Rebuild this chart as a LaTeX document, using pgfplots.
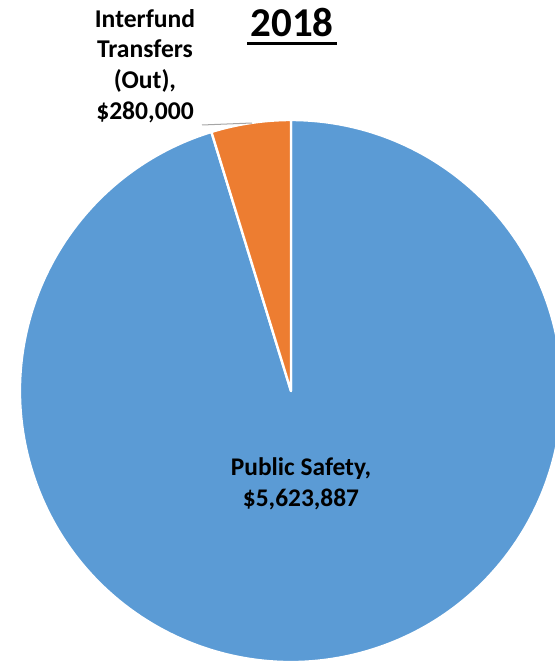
\documentclass[border=0pt]{standalone}
\usepackage{pgfplots}
\usepackage{pgfplotstable}
\pgfplotsset{compat=1.18}
\usepackage{fontspec}
\setmainfont{Carlito}
\definecolor{pblue}{HTML}{5B9BD5}
\definecolor{porange}{HTML}{ED7D31}
\pgfplotstableread{
name value
transfers 280000
safety 5623887
}\piedata
\begin{document}
\begin{tikzpicture}
\pgfplotstablegetelem{0}{value}\of\piedata \edef\va{\pgfplotsretval}
\pgfplotstablegetelem{1}{value}\of\piedata \edef\vb{\pgfplotsretval}
\edef\aa{\fpeval{90+360*\va/(\va+\vb)}}
\begin{axis}[x=0.5pt,y=0.5pt,xmin=0,xmax=555,ymin=0,ymax=666,
  hide axis,scale only axis,clip=true]
\fill[pblue,draw=white,line width=1.2pt,line join=round] (axis cs:291,275) -- ++(\aa:135.5pt) arc[start angle=\aa,end angle=450,radius=135.5pt] -- cycle;
\fill[porange,draw=white,line width=1.2pt,line join=round] (axis cs:291,275) -- ++(90:135.5pt) arc[start angle=90,end angle=\aa,radius=135.5pt] -- cycle;
\draw[black!35,line width=0.5pt] (axis cs:202,541) -- (axis cs:252,543);
\node[font=\bfseries\fontsize{12.8}{15.5}\selectfont,align=center,anchor=base,inner sep=0pt] at (axis cs:145,546) {Interfund\\Transfers\\(Out),\\\$280,000};
\node[font=\bfseries\fontsize{12.7}{16}\selectfont,align=center,anchor=base,inner sep=0pt] at (axis cs:301,159) {Public Safety,\\\$5,623,887};
\node[font=\bfseries\fontsize{20.5}{24}\selectfont,anchor=base,inner sep=0pt] at (axis cs:292,629) {2018};
\draw[line width=1.5pt] (axis cs:247,622.5) -- (axis cs:337,622.5);
\end{axis}
\pgfresetboundingbox
\useasboundingbox (current axis.south west) rectangle (current axis.north east);
\end{tikzpicture}
\end{document}
